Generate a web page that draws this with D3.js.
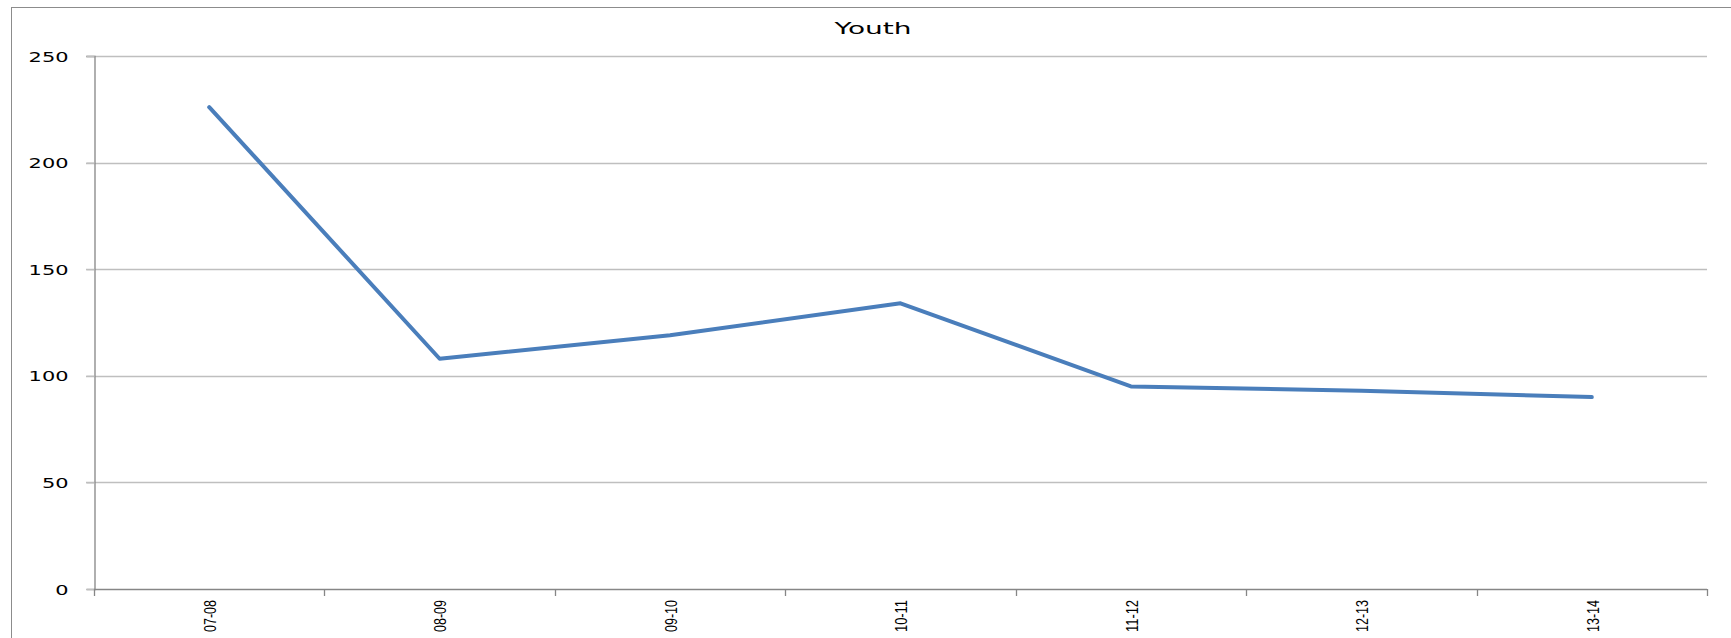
<!DOCTYPE html>
<html>
<head>
<meta charset="utf-8">
<script src="https://cdn.jsdelivr.net/npm/d3@7"></script>
<style>
  body { margin: 0; background: #fff; }
</style>
</head>
<body>
<div id="container"></div>
<script>
let width = 1731;
let height = 638;

let categories = ["07-08", "08-09", "09-10", "10-11", "11-12", "12-13", "13-14"];
let youth = [226, 108, 119, 134, 95, 93, 90];
let yTicks = [0, 50, 100, 150, 200, 250];

let plotLeft = 94, plotRight = 1707, plotTop = 56, plotBottom = 589;

let svg = d3.select("#container")
    .append("svg")
    .attr("width", width)
    .attr("height", height);

// chart border (runs off the right and bottom edges)
svg.append("rect")
    .attr("x", 11.5)
    .attr("y", 7.5)
    .attr("width", 1900)
    .attr("height", 800)
    .attr("fill", "none")
    .attr("stroke", "#8c8c8c")
    .attr("stroke-width", 1);

let x = d3.scaleBand()
    .domain(categories)
    .range([plotLeft, plotRight])
    .padding(0);

let y = d3.scaleLinear()
    .domain([0, 250])
    .range([plotBottom, plotTop]);

// gridlines
svg.selectAll(".grid")
    .data(yTicks.filter(d => d > 0))
    .enter()
    .append("line")
    .attr("class", "grid")
    .attr("x1", plotLeft - 8)
    .attr("x2", plotRight)
    .attr("y1", d => Math.round(y(d)) + 0.5)
    .attr("y2", d => Math.round(y(d)) + 0.5)
    .attr("stroke", "#bfbfbf")
    .attr("stroke-width", 1.3);

// y axis
let yAxis = svg.append("g")
    .attr("transform", `translate(${plotLeft + 0.5},0)`)
    .call(d3.axisLeft(y).tickValues(yTicks).tickSize(8).tickPadding(18));
yAxis.select(".domain").attr("stroke", "#868686").attr("stroke-width", 1.3);
yAxis.selectAll(".tick line").attr("stroke", "#bfbfbf").attr("stroke-width", 1.3);
yAxis.selectAll(".tick text")
    .attr("font-family", "DejaVu Sans")
    .attr("font-size", 14)
    .attr("fill", "#000")
    .attr("dy", "0.36em")
    .attr("textLength", d => String(d).length * 13.3)
    .attr("lengthAdjust", "spacingAndGlyphs");

// x axis line and ticks at category boundaries
let bounds = categories.map(d => x(d)).concat([plotRight]);
svg.append("line")
    .attr("x1", plotLeft)
    .attr("x2", plotRight)
    .attr("y1", plotBottom + 0.5)
    .attr("y2", plotBottom + 0.5)
    .attr("stroke", "#868686")
    .attr("stroke-width", 1.3);
svg.selectAll(".xtick")
    .data(bounds)
    .enter()
    .append("line")
    .attr("x1", d => Math.round(d) + 0.5)
    .attr("x2", d => Math.round(d) + 0.5)
    .attr("y1", plotBottom)
    .attr("y2", plotBottom + 7)
    .attr("stroke", "#868686")
    .attr("stroke-width", 1.3);

// rotated category labels
svg.selectAll(".xlabel")
    .data(categories)
    .enter()
    .append("text")
    .attr("class", "xlabel")
    .attr("transform", d => `translate(${x(d) + x.bandwidth() / 2 + 1},600) rotate(-90)`)
    .attr("text-anchor", "end")
    .attr("dy", "0.36em")
    .attr("font-family", "Liberation Sans Narrow, Liberation Sans, sans-serif")
    .attr("font-size", 16)
    .attr("textLength", 32)
    .attr("lengthAdjust", "spacingAndGlyphs")
    .text(d => d);

// series line
let line = d3.line()
    .x((d, i) => x(categories[i]) + x.bandwidth() / 2)
    .y(d => y(d));

svg.append("path")
    .datum(youth)
    .attr("d", line)
    .attr("fill", "none")
    .attr("stroke", "#4a7ebb")
    .attr("stroke-width", 4)
    .attr("stroke-linejoin", "round")
    .attr("stroke-linecap", "round");

// title
svg.append("text")
    .attr("x", 873)
    .attr("y", 34)
    .attr("text-anchor", "middle")
    .attr("font-family", "DejaVu Sans")
    .attr("font-size", 16)
    .attr("textLength", 77)
    .attr("lengthAdjust", "spacingAndGlyphs")
    .text("Youth");
</script>
</body>
</html>
